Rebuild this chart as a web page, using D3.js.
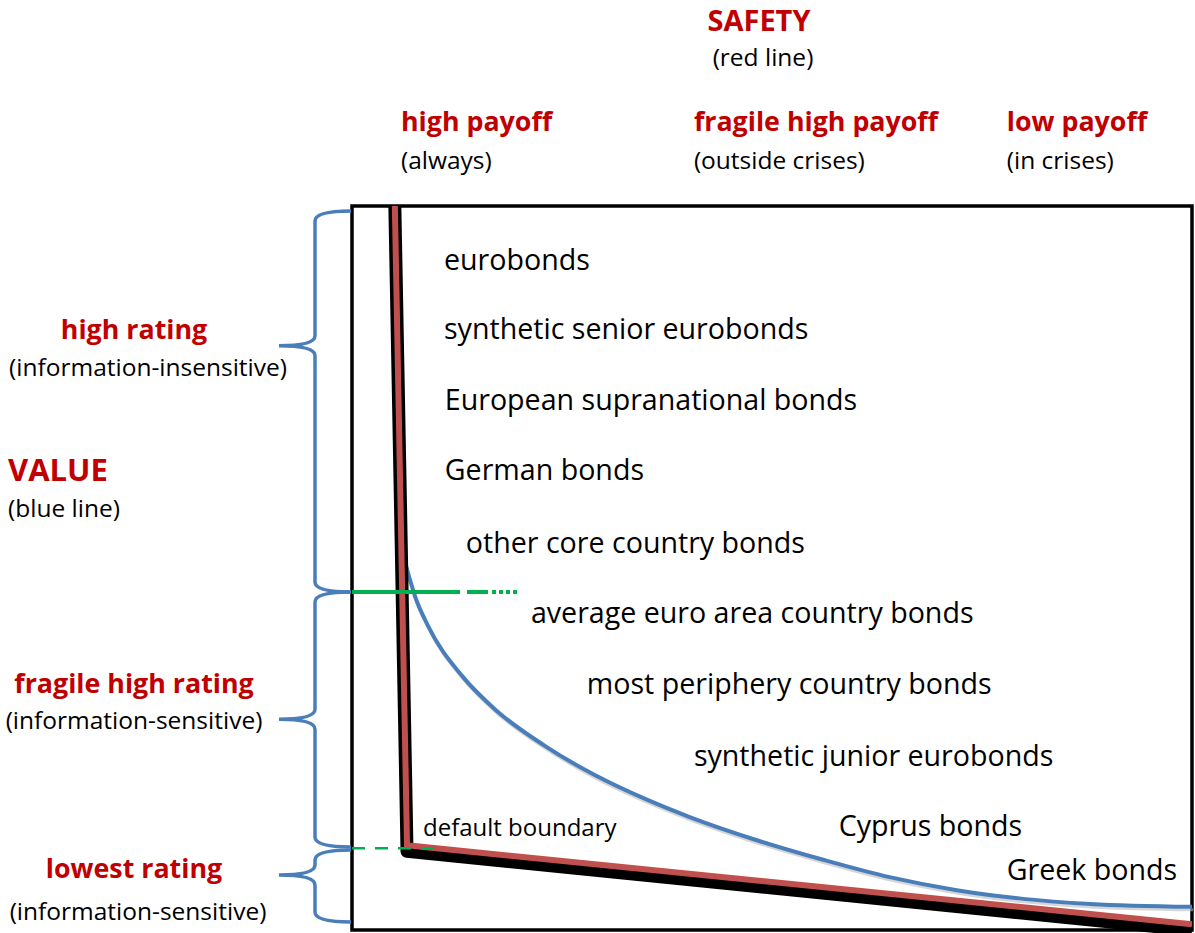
<!DOCTYPE html>
<html>
<head>
<meta charset="utf-8">
<script src="https://cdn.jsdelivr.net/npm/d3@7"></script>
<style>
  body { margin: 0; background: #fff; }
  text { font-family: "Open Sans", sans-serif; }
</style>
</head>
<body>
<svg id="chart" width="1195" height="933"></svg>
<script>
// conceptual axes: safety (0 = safest .. 100) and value (0 .. 100)
const safetyLine = [[5.1, 100], [6.55, 11.7], [100, 0.8]];
const valueCurve = [
  [6.31, 50.8], [6.67, 49.3], [7.5, 46.1], [9.05, 42.0], [13.1, 35.1],
  [17.0, 30.5], [23.0, 25.4], [28.9, 21.4], [34.9, 18.1], [40.2, 15.6],
  [48.2, 12.4], [56.1, 9.7], [64.0, 7.3], [72.0, 5.5], [79.9, 4.3],
  [87.9, 3.6], [100, 3.2]
];
const highRatingFloor = 46.7;
const defaultBoundary = 11.3;

const bondNames = [
  "eurobonds", "synthetic senior eurobonds", "European supranational bonds",
  "German bonds", "other core country bonds", "average euro area country bonds",
  "most periphery country bonds", "synthetic junior eurobonds", "Cyprus bonds", "Greek bonds"
];
const bondSafety = [10.95, 10.95, 11.05, 11.05, 13.55, 21.3, 27.95, 40.7, 57.95, 77.95];
const bondValue = [91.15, 81.6, 71.8, 62.15, 52.05, 42.4, 32.6, 22.65, 12.95, 6.9];

const ratingBands = [
  { title: "high rating", sub: "(information-insensitive)", top: 99.3, bottom: 46.7, tip: 80.7, titleAt: 81.6, subAt: 76.5, titleX: 134, subX: 148 },
  { title: "fragile high rating", sub: "(information-sensitive)", top: 46.7, bottom: 11.45, tip: 29.1, titleAt: 32.75, subAt: 27.8, titleX: 134, subX: 134 },
  { title: "lowest rating", sub: "(information-sensitive)", top: 11.05, bottom: 1.1, tip: 7.6, titleAt: 7.2, subAt: 1.4, titleX: 134, subX: 138 }
];
const payoffBands = [
  { title: "high payoff", sub: "(always)", at: 5.83 },
  { title: "fragile high payoff", sub: "(outside crises)", at: 40.7 },
  { title: "low payoff", sub: "(in crises)", at: 77.95 }
];

const RED_TXT = "#C00000", RED = "#C0504D", BLUE = "#4A7EBB", GREEN = "#00B050";
const svg = d3.select("#chart");
const x = d3.scaleLinear().domain([0, 100]).range([352, 1192]);
const y = d3.scaleLinear().domain([0, 100]).range([930, 206]);

// frame
svg.append("rect")
  .attr("x", x(0)).attr("y", y(100))
  .attr("width", x(100) - x(0)).attr("height", y(0) - y(100))
  .attr("fill", "none").attr("stroke", "#000").attr("stroke-width", 3.5);

// rating braces
const XE = 351, XV = 315, XT = 279, R = 10;
function brace(b) {
  const y0 = y(b.top), y1 = y(b.bottom), ym = y(b.tip);
  const r0 = Math.min(R, (ym - y0) / 2), r1 = Math.min(R, (y1 - ym) / 2);
  return `M${XE},${y0} Q${XV},${y0} ${XV},${y0 + r0} L${XV},${ym - r0} Q${XV},${ym} ${XT},${ym}` +
    ` Q${XV},${ym} ${XV},${ym + r1} L${XV},${y1 - r1} Q${XV},${y1} ${XE},${y1}`;
}
svg.selectAll(".brace").data(ratingBands).enter().append("path")
  .attr("class", "brace").attr("d", brace)
  .attr("fill", "none").attr("stroke", BLUE).attr("stroke-width", 3.5);

// value curve (blue) with soft shadow
const curve = d3.line().x(d => x(d[0])).y(d => y(d[1])).curve(d3.curveMonotoneX);
svg.append("path").attr("d", curve(valueCurve))
  .attr("transform", "translate(1,3)")
  .attr("fill", "none").attr("stroke", "#bbb").attr("stroke-width", 3).attr("opacity", 0.6);
svg.append("path").attr("d", curve(valueCurve))
  .attr("fill", "none").attr("stroke", BLUE).attr("stroke-width", 4);

// safety line (red) over its black shadow
const shadowPts = safetyLine.map((d, i) => [x(d[0]), y(d[1]) + (i ? 6 : 0)]);
svg.append("path").attr("d", d3.line()(shadowPts))
  .attr("fill", "none").attr("stroke", "#000").attr("stroke-width", 13)
  .attr("stroke-linejoin", "round");
svg.append("path").attr("d", d3.line().x(d => x(d[0])).y(d => y(d[1]))(safetyLine))
  .attr("fill", "none").attr("stroke", RED).attr("stroke-width", 6)
  .attr("stroke-linejoin", "miter");

// thresholds (green)
svg.append("line")
  .attr("x1", x(0)).attr("x2", x(20)).attr("y1", y(highRatingFloor)).attr("y2", y(highRatingFloor))
  .attr("stroke", GREEN).attr("stroke-width", 4)
  .attr("stroke-dasharray", "108 7 21 4 4 3 4 3 4 3 4 3 4 100");
svg.append("line")
  .attr("x1", x(0)).attr("x2", x(10.9)).attr("y1", y(defaultBoundary)).attr("y2", y(defaultBoundary))
  .attr("stroke", GREEN).attr("stroke-width", 2.5).attr("stroke-dasharray", "13 10");

// bond labels
svg.selectAll(".bond").data(bondNames).enter().append("text")
  .attr("class", "bond")
  .attr("x", (d, i) => x(bondSafety[i])).attr("y", (d, i) => y(bondValue[i]))
  .style("font-size", "28.6px").attr("fill", "#000")
  .text(d => d);
svg.append("text")
  .attr("x", x(8.45)).attr("y", y(12.95))
  .style("font-size", "24px").attr("fill", "#000")
  .text("default boundary");

// top header
svg.append("text").attr("x", 759).attr("y", 31).attr("text-anchor", "middle")
  .style("font-size", "29px").style("font-weight", 700).attr("fill", RED_TXT).text("SAFETY");
svg.append("text").attr("x", 763).attr("y", 66).attr("text-anchor", "middle")
  .style("font-size", "24.5px").attr("fill", "#000").text("(red line)");
payoffBands.forEach(p => {
  svg.append("text").attr("x", x(p.at)).attr("y", 131)
    .style("font-size", "26.8px").style("font-weight", 700).attr("fill", RED_TXT).text(p.title);
  svg.append("text").attr("x", x(p.at)).attr("y", 169)
    .style("font-size", "24.5px").attr("fill", "#000").text(p.sub);
});

// left header
svg.append("text").attr("x", 8).attr("y", 481)
  .style("font-size", "31px").style("font-weight", 700).attr("fill", RED_TXT).text("VALUE");
svg.append("text").attr("x", 8).attr("y", 517)
  .style("font-size", "24.5px").attr("fill", "#000").text("(blue line)");
ratingBands.forEach(b => {
  svg.append("text").attr("x", b.titleX).attr("y", y(b.titleAt)).attr("text-anchor", "middle")
    .style("font-size", "26.8px").style("font-weight", 700).attr("fill", RED_TXT).text(b.title);
  svg.append("text").attr("x", b.subX).attr("y", y(b.subAt)).attr("text-anchor", "middle")
    .style("font-size", "24.5px").attr("fill", "#000").text(b.sub);
});
</script>
</body>
</html>
